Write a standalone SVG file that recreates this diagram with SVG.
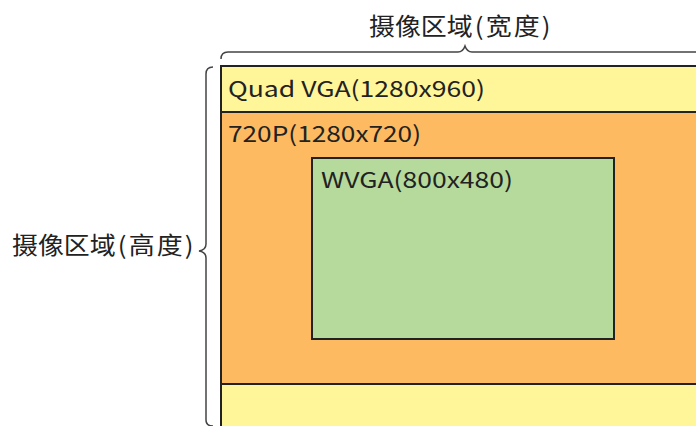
<svg xmlns="http://www.w3.org/2000/svg" width="696" height="426" viewBox="0 0 696 426">
<style>
.t{font-family:"Noto Sans CJK SC","Noto Sans",sans-serif;fill:#222;}
.lbl{font-size:22px;}
.cap{font-size:24px;}
.box{stroke:#222;stroke-width:2;}
.brace{fill:none;stroke:#444;stroke-width:1.5;}
</style>
<rect width="696" height="426" fill="#fff"/>
<g id="quadvga">
<rect class="box" x="221" y="66" width="490" height="380" fill="#FFF599"/>
<text class="t lbl" x="228" y="97" textLength="257" lengthAdjust="spacingAndGlyphs">Quad VGA(1280x960)</text>
</g>
<g id="p720">
<rect class="box" x="221" y="112" width="490" height="272" fill="#FDBA60"/>
<text class="t lbl" x="228" y="142" textLength="193" lengthAdjust="spacingAndGlyphs">720P(1280x720)</text>
</g>
<g id="wvga">
<rect class="box" x="312" y="158" width="302" height="181" fill="#B6D99C"/>
<text class="t lbl" x="321" y="188" textLength="192" lengthAdjust="spacingAndGlyphs">WVGA(800x480)</text>
</g>
<g id="connectors">
<path class="brace" d="M221,59 Q221,52 228,52 L458,52 Q463,52 465,46 Q467,52 472,52 L700,52"/>
<path class="brace" d="M213,67 Q206,67 206,74 L206,244 Q206,250 199,251 Q206,252 206,258 L206,420 Q206,426 213,426"/>
</g>
<g id="labels">
<text class="t cap" transform="translate(369,35) scale(1.08,1)"><tspan x="0">摄像区域</tspan><tspan x="98">(</tspan><tspan x="108">宽</tspan><tspan x="134">度</tspan><tspan x="160">)</tspan></text>
<text class="t cap" transform="translate(12,254) scale(1.08,1)"><tspan x="0">摄像区域</tspan><tspan x="98">(</tspan><tspan x="108">高</tspan><tspan x="134">度</tspan><tspan x="160">)</tspan></text>
</g>
</svg>
